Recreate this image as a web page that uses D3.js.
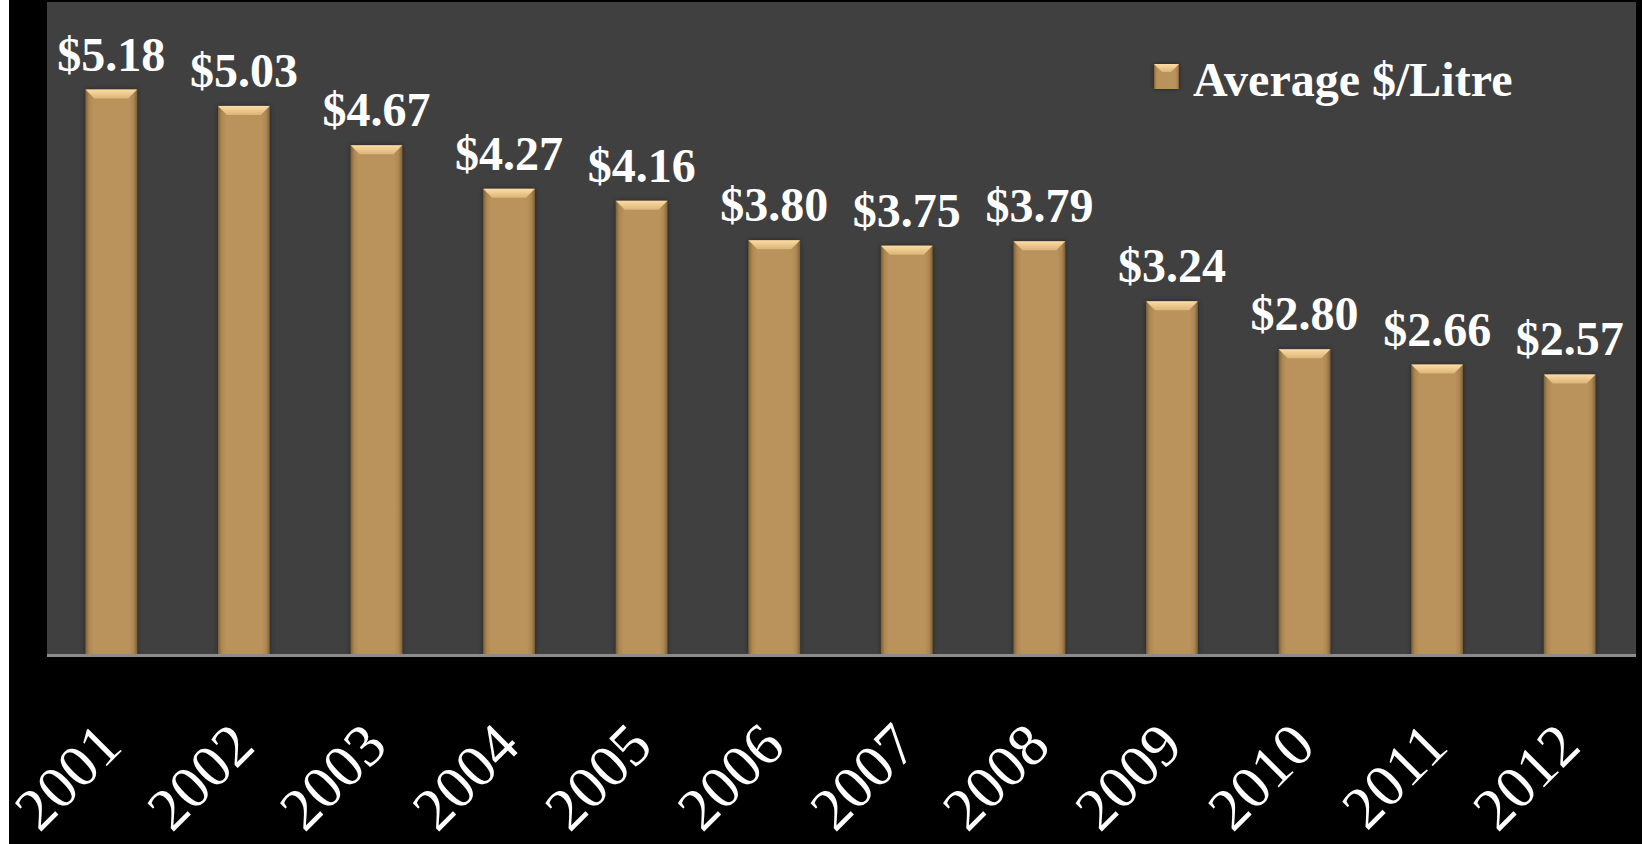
<!DOCTYPE html>
<html>
<head>
<meta charset="utf-8">
<script src="https://cdn.jsdelivr.net/npm/d3@7"></script>
<style>
  html, body { margin: 0; padding: 0; background: #000; }
  svg { display: block; }
</style>
</head>
<body>
<svg id="chart" width="1642" height="844"></svg>
<script>
const years = ["2001","2002","2003","2004","2005","2006","2007","2008","2009","2010","2011","2012"];
const prices = [5.18, 5.03, 4.67, 4.27, 4.16, 3.80, 3.75, 3.79, 3.24, 2.80, 2.66, 2.57];
const seriesName = "Average $/Litre";

const W = 1642, H = 844;
const svg = d3.select("#chart");

const defs = svg.append("defs");
const g1 = defs.append("linearGradient").attr("id", "barGrad").attr("x1", 0).attr("x2", 1).attr("y1", 0).attr("y2", 0);
[[0, "#7f6035"], [0.07, "#ad8752"], [0.15, "#b9925b"], [0.85, "#b9925b"], [0.93, "#ad8752"], [1, "#7f6035"]]
  .forEach(([o, c]) => g1.append("stop").attr("offset", o).attr("stop-color", c));
const g2 = defs.append("linearGradient").attr("id", "bevelGrad").attr("x1", 0).attr("x2", 0).attr("y1", 0).attr("y2", 1);
[[0, "#fbdca4"], [1, "#dcb477"]].forEach(([o, c]) => g2.append("stop").attr("offset", o).attr("stop-color", c));
const f = defs.append("filter").attr("id", "shadow").attr("x", "-30%").attr("y", "-10%").attr("width", "160%").attr("height", "120%");
f.append("feDropShadow").attr("dx", 0).attr("dy", 0).attr("stdDeviation", 2.5).attr("flood-color", "#000").attr("flood-opacity", 0.45);

// background
svg.append("rect").attr("x", 0).attr("y", 0).attr("width", W).attr("height", H).attr("fill", "#000");
svg.append("rect").attr("x", 0).attr("y", 0).attr("width", 9).attr("height", H).attr("fill", "#fff");

const x = d3.scaleBand().domain(years).range([45, 1636]).paddingInner(0.61).paddingOuter(0.305);
const y = d3.scaleLinear().domain([0, 6]).range([655, 0]);

// plot area
svg.append("rect").attr("x", 47).attr("y", 2).attr("width", 1636 - 47).attr("height", 655 - 2).attr("fill", "#404040");

const data = years.map((yr, i) => ({ yr, v: prices[i] }));

const bars = svg.append("g").selectAll("g.bar").data(data).join("g").attr("class", "bar");
bars.append("rect")
  .attr("x", d => x(d.yr))
  .attr("y", d => y(d.v))
  .attr("width", x.bandwidth())
  .attr("height", d => y(0) - y(d.v))
  .attr("fill", "url(#barGrad)")
  .attr("filter", "url(#shadow)");
bars.append("path")
  .attr("d", d => {
    const x0 = x(d.yr), x1 = x0 + x.bandwidth(), t = y(d.v), b = 9;
    return `M${x0},${t}L${x1},${t}L${x1 - b},${t + b}L${x0 + b},${t + b}Z`;
  })
  .attr("fill", "url(#bevelGrad)");

// value labels
svg.append("g").selectAll("text").data(data).join("text")
  .attr("x", d => x(d.yr) + x.bandwidth() / 2)
  .attr("y", d => y(d.v) - 19)
  .attr("text-anchor", "middle")
  .style("font-family", "'Liberation Serif', 'Times New Roman', serif")
  .style("font-weight", "bold")
  .style("font-size", "48px")
  .attr("fill", "#fff")
  .text(d => "$" + d.v.toFixed(2));

// x axis
const ax = svg.append("g").attr("transform", "translate(0,655.5)")
  .call(d3.axisBottom(x).tickSize(0).tickSizeOuter(0));
ax.attr("font-family", null).attr("font-size", null);
ax.select(".domain").attr("stroke", "#8c8c8c").attr("stroke-width", 3)
  .attr("d", "M47,0H1636");
ax.selectAll(".tick text")
  .attr("x", 0).attr("y", 0).attr("dy", 0)
  .attr("text-anchor", "end")
  .attr("transform", "translate(13,93) rotate(-45)")
  .style("font-family", "'Liberation Serif', 'DejaVu Serif', 'Noto Serif'")
  .style("font-weight", "400")
  .style("font-style", "normal")
  .style("font-size", "60px")
  .attr("fill", "#fff");

// legend
const lg = svg.append("g");
lg.append("rect").attr("x", 1154).attr("y", 64).attr("width", 25).attr("height", 25)
  .attr("fill", "url(#barGrad)").attr("filter", "url(#shadow)");
lg.append("path").attr("d", "M1154,64L1179,64L1171,72L1162,72Z").attr("fill", "url(#bevelGrad)");
lg.append("text").attr("x", 1193).attr("y", 96)
  .style("font-family", "'Liberation Serif', 'Times New Roman', serif")
  .style("font-weight", "bold")
  .style("font-size", "48px")
  .attr("fill", "#fff")
  .text(seriesName);
</script>
</body>
</html>
